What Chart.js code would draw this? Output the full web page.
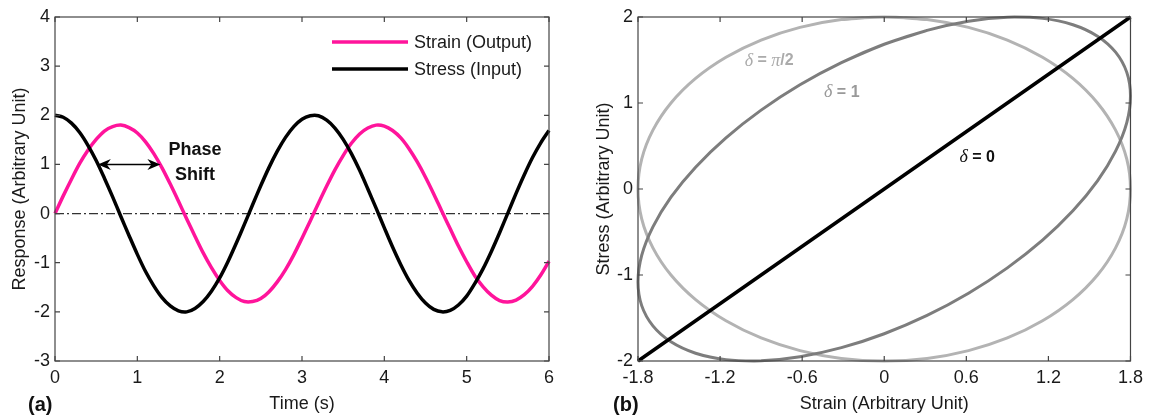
<!DOCTYPE html>
<html><head><meta charset="utf-8">
<script src="https://cdn.jsdelivr.net/npm/chart.js@4.4.1/dist/chart.umd.min.js"></script>
<style>
html,body{margin:0;padding:0;background:#fff;}
#wrap{position:relative;width:1149px;height:418px;overflow:hidden;background:#fff;}
canvas{position:absolute;top:0;}
#ca{left:0;} #cb{left:575px;}
.panel{position:absolute;top:394px;font:bold 20px "Liberation Sans",Arial,sans-serif;line-height:20px;color:#111;}
</style></head><body>
<div id="wrap">
<canvas id="ca" width="575" height="418"></canvas>
<canvas id="cb" width="574" height="418"></canvas>
<div class="panel" style="left:28px">(a)</div>
<div class="panel" style="left:613px">(b)</div>
</div>
<script>
// ---------- Panel (a) data ----------
const time = [0,0.1,0.2,0.3,0.4,0.5,0.6,0.7,0.8,0.9,1.0,1.1,1.2,1.3,1.4,1.5,1.6,1.7,1.8,1.9,2.0,2.1,2.2,2.3,2.4,2.5,2.6,2.7,2.8,2.9,3.0,3.1,3.2,3.3,3.4,3.5,3.6,3.7,3.8,3.9,4.0,4.1,4.2,4.3,4.4,4.5,4.6,4.7,4.8,4.9,5.0,5.1,5.2,5.3,5.4,5.5,5.6,5.7,5.8,5.9,6.0];
const strain = [0,0.36,0.70,1.02,1.29,1.51,1.68,1.77,1.80,1.75,1.64,1.46,1.22,0.93,0.60,0.25,-0.11,-0.46,-0.80,-1.10,-1.36,-1.57,-1.71,-1.79,-1.79,-1.73,-1.59,-1.39,-1.14,-0.84,-0.50,-0.15,0.21,0.56,0.89,1.18,1.43,1.62,1.74,1.80,1.78,1.69,1.54,1.32,1.05,0.74,0.40,0.04,-0.31,-0.66,-0.98,-1.27,-1.49,-1.66,-1.77,-1.80,-1.76,-1.65,-1.48,-1.25,-0.97];
const stress = [2.00,1.96,1.84,1.65,1.39,1.08,0.72,0.34,-0.06,-0.45,-0.83,-1.18,-1.47,-1.71,-1.88,-1.98,-2.00,-1.93,-1.79,-1.58,-1.31,-0.98,-0.61,-0.22,0.18,0.57,0.94,1.27,1.55,1.77,1.92,1.99,1.99,1.90,1.74,1.51,1.22,0.88,0.50,0.11,-0.29,-0.68,-1.04,-1.36,-1.62,-1.82,-1.95,-2.00,-1.97,-1.86,-1.68,-1.42,-1.12,-0.77,-0.39,0.01,0.41,0.79,1.14,1.44,1.69];
const seriesLabels = ['Strain (Output)','Stress (Input)'];
const timeTicks = [0,1,2,3,4,5,6];
const responseTicks = [-3,-2,-1,0,1,2,3,4];
const phaseArrow = [0.52, 1.28, 1.0];      // x from, x to, y
const phaseText = [1.70, 1.29, 0.78];      // x, y of "Phase", y of "Shift"

// ---------- Panel (b) data ----------
const loopStrain = [-0.313,0,0.313,0.616,0.9,1.157,1.379,1.559,1.691,1.773,1.8,1.773,1.691,1.559,1.379,1.157,0.9,0.616,0.313,0,-0.313,-0.616,-0.9,-1.157,-1.379,-1.559,-1.691,-1.773,-1.8,-1.773,-1.691,-1.559,-1.379,-1.157,-0.9,-0.616,-0.313,0,0.313];
const stressDeltaHalfPi = [1.970,2,1.970,1.879,1.732,1.532,1.286,1,0.684,0.347,0,-0.347,-0.684,-1,-1.286,-1.532,-1.732,-1.879,-1.970,-2,-1.970,-1.879,-1.732,-1.532,-1.286,-1,-0.684,-0.347,0,0.347,0.684,1,1.286,1.532,1.732,1.879,1.970,2,1.970];
const stressDelta1 = [1.470,1.683,1.845,1.951,1.998,1.984,1.910,1.777,1.591,1.356,1.081,0.772,0.440,0.094,-0.254,-0.595,-0.917,-1.212,-1.470,-1.683,-1.845,-1.951,-1.998,-1.984,-1.910,-1.777,-1.591,-1.356,-1.081,-0.772,-0.440,-0.094,0.254,0.595,0.917,1.212,1.470,1.683,1.845];
const lineStrain = [-1.8,0,1.8];
const stressDelta0 = [-2,0,2];
const strainTicks = [-1.8,-1.2,-0.6,0,0.6,1.2,1.8];
const stressTicks = [-2,-1,0,1,2];
const deltaLabelPos = [[-1.02,1.49],[-0.44,1.12],[0.55,0.37]];

const SANS = '"Liberation Sans", Arial, sans-serif';
const SERIF = '"Liberation Serif", "Times New Roman", serif';
Chart.defaults.font.family = SANS;
Chart.defaults.color = '#1a1a1a';

const pts = (xs, ys) => xs.map((x, i) => ({x: x, y: ys[i]}));

const framePlugin = {
  id: 'frame',
  afterDatasetsDraw(chart) {
    const {ctx, chartArea: a, scales} = chart;
    ctx.save();
    ctx.strokeStyle = '#444';
    ctx.lineWidth = 1.2;
    ctx.strokeRect(a.left, a.top, a.right - a.left, a.bottom - a.top);
    const L = 5;
    ctx.beginPath();
    scales.x.ticks.forEach(t => {
      const p = scales.x.getPixelForValue(t.value);
      ctx.moveTo(p, a.bottom); ctx.lineTo(p, a.bottom - L);
      ctx.moveTo(p, a.top); ctx.lineTo(p, a.top + L);
    });
    scales.y.ticks.forEach(t => {
      const p = scales.y.getPixelForValue(t.value);
      ctx.moveTo(a.left, p); ctx.lineTo(a.left + L, p);
      ctx.moveTo(a.right, p); ctx.lineTo(a.right - L, p);
    });
    ctx.stroke();
    ctx.restore();
  }
};

function axisX(min, max, ticks, fmt, title) {
  return {
    type: 'linear', min, max,
    grid: {display: false, drawTicks: false}, border: {display: false},
    afterBuildTicks: s => { s.ticks = ticks.map(v => ({value: v})); },
    afterFit: s => { s.height = 57; },
    ticks: {font: {size: 18}, padding: 6, color: '#1a1a1a', maxRotation: 0, autoSkip: false, callback: fmt},
    title: {display: true, text: title, font: {size: 18}, padding: 3, color: '#1a1a1a'}
  };
}
function axisY(min, max, ticks, width, title, tpad) {
  return {
    type: 'linear', min, max,
    grid: {display: false, drawTicks: false}, border: {display: false},
    afterBuildTicks: s => { s.ticks = ticks.map(v => ({value: v})); },
    afterFit: s => { s.width = width; },
    ticks: {font: {size: 18}, padding: 5, color: '#1a1a1a', autoSkip: false, callback: v => String(v)},
    title: {display: true, text: title, font: {size: 18}, padding: tpad, color: '#1a1a1a'}
  };
}

// ---------- Panel (a) ----------
const annotA = {
  id: 'annotA',
  beforeDatasetsDraw(chart) {
    const {ctx, scales: {x, y}} = chart;
    ctx.save();
    ctx.strokeStyle = '#333';
    ctx.lineWidth = 1.2;
    ctx.setLineDash([9, 3, 2, 3]);
    const yp = y.getPixelForValue(0);
    ctx.beginPath();
    ctx.moveTo(x.getPixelForValue(timeTicks[0]), yp);
    ctx.lineTo(x.getPixelForValue(timeTicks[timeTicks.length - 1]), yp);
    ctx.stroke();
    ctx.restore();
  },
  afterDatasetsDraw(chart) {
    const {ctx, chartArea: a, scales: {x, y}} = chart;
    ctx.save();
    const x1 = x.getPixelForValue(phaseArrow[0]);
    const x2 = x.getPixelForValue(phaseArrow[1]);
    const yp = y.getPixelForValue(phaseArrow[2]);
    ctx.strokeStyle = '#000'; ctx.fillStyle = '#000'; ctx.lineWidth = 1.4;
    ctx.beginPath(); ctx.moveTo(x1 + 6, yp); ctx.lineTo(x2 - 6, yp); ctx.stroke();
    const head = (tx, dir) => {
      ctx.beginPath();
      ctx.moveTo(tx, yp);
      ctx.lineTo(tx + dir * 13, yp - 5.5);
      ctx.lineTo(tx + dir * 9, yp);
      ctx.lineTo(tx + dir * 13, yp + 5.5);
      ctx.closePath(); ctx.fill();
    };
    head(x1, 1); head(x2, -1);
    ctx.font = 'bold 18px ' + SANS;
    ctx.textAlign = 'center'; ctx.textBaseline = 'middle';
    ctx.fillStyle = '#111';
    ctx.fillText('Phase', x.getPixelForValue(phaseText[0]), y.getPixelForValue(phaseText[1]));
    ctx.fillText('Shift', x.getPixelForValue(phaseText[0]), y.getPixelForValue(phaseText[2]));
    const ds = chart.data.datasets;
    ctx.textAlign = 'left';
    ctx.font = '18px ' + SANS;
    ds.forEach((d, i) => {
      const ly = a.top + 25 + i * 27;
      ctx.strokeStyle = d.borderColor; ctx.lineWidth = 3.5;
      ctx.beginPath(); ctx.moveTo(a.right - 217, ly); ctx.lineTo(a.right - 141, ly); ctx.stroke();
      ctx.fillStyle = '#1a1a1a';
      ctx.fillText(d.label, a.right - 135, ly + 1);
    });
    ctx.restore();
  }
};

new Chart(document.getElementById('ca'), {
  type: 'line',
  data: {
    datasets: [
      {label: seriesLabels[0], data: pts(time, strain), borderColor: '#ff149b', borderWidth: 3.5, tension: 0.3, clip: false, order: 1},
      {label: seriesLabels[1], data: pts(time, stress), borderColor: '#000000', borderWidth: 3.5, tension: 0.3, clip: false, order: 0}
    ]
  },
  options: {
    responsive: false, animation: false,
    layout: {padding: {top: 17, right: 26, left: 0, bottom: 0}},
    plugins: {legend: {display: false}, tooltip: {enabled: false}},
    elements: {point: {radius: 0}},
    scales: {
      x: axisX(0, 6, timeTicks, v => String(v), 'Time (s)'),
      y: axisY(-3, 4, responseTicks, 55, 'Response (Arbitrary Unit)', 9)
    }
  },
  plugins: [annotA, framePlugin]
});

// ---------- Panel (b) ----------
function drawParts(ctx, x, y, parts, color) {
  ctx.fillStyle = color;
  parts.forEach(p => { ctx.font = p[1]; ctx.fillText(p[0], x, y); x += ctx.measureText(p[0]).width; });
}
const annotB = {
  id: 'annotB',
  afterDatasetsDraw(chart) {
    const {ctx, scales: {x, y}} = chart;
    ctx.save();
    ctx.textAlign = 'left'; ctx.textBaseline = 'middle';
    const dI = 'italic 18px ' + SERIF, bS = 'bold 16px ' + SANS;
    const P = deltaLabelPos.map(p => [x.getPixelForValue(p[0]), y.getPixelForValue(p[1])]);
    drawParts(ctx, P[0][0], P[0][1], [['δ', dI], [' = ', bS], ['π', dI], ['/2', bS]], '#ababab');
    drawParts(ctx, P[1][0], P[1][1], [['δ', dI], [' = 1', bS]], '#999999');
    drawParts(ctx, P[2][0], P[2][1], [['δ', dI], [' = 0', bS]], '#111111');
    ctx.restore();
  }
};

new Chart(document.getElementById('cb'), {
  type: 'line',
  data: {
    datasets: [
      {label: 'δ = 0', data: pts(lineStrain, stressDelta0), borderColor: '#000000', borderWidth: 3.5, tension: 0, clip: false, order: 0},
      {label: 'δ = 1', data: pts(loopStrain, stressDelta1), borderColor: '#7d7d7d', borderWidth: 3, tension: 0.35, clip: false, order: 1},
      {label: 'δ = π/2', data: pts(loopStrain, stressDeltaHalfPi), borderColor: '#b3b3b3', borderWidth: 3, tension: 0.35, clip: false, order: 2}
    ]
  },
  options: {
    responsive: false, animation: false,
    layout: {padding: {top: 17, right: 15, left: 0, bottom: 0}},
    plugins: {legend: {display: false}, tooltip: {enabled: false}},
    elements: {point: {radius: 0}},
    scales: {
      x: axisX(-1.8, 1.8, strainTicks, v => String(v), 'Strain (Arbitrary Unit)'),
      y: axisY(-2, 2, stressTicks, 63, 'Stress (Arbitrary Unit)', 18)
    }
  },
  plugins: [annotB, framePlugin]
});
</script>
</body></html>
